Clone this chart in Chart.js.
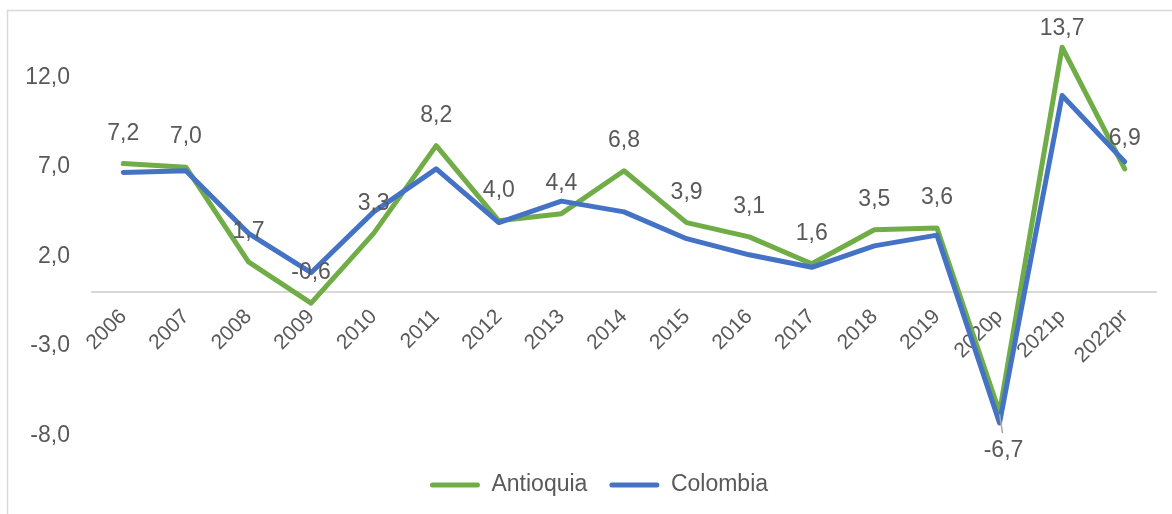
<!DOCTYPE html>
<html>
<head>
<meta charset="utf-8">
<script src="https://cdn.jsdelivr.net/npm/chart.js@4.4.1/dist/chart.umd.min.js"></script>
<style>
html,body{margin:0;padding:0;background:#fff;}
#wrap{width:1172px;height:514px;position:relative;}
</style>
</head>
<body>
<div id="wrap"><canvas id="c" width="1172" height="514"></canvas></div>
<script>
const categories = ['2006','2007','2008','2009','2010','2011','2012','2013','2014','2015','2016','2017','2018','2019','2020p','2021p','2022pr'];
const antioquia = [7.2, 7.0, 1.7, -0.6, 3.3, 8.2, 4.0, 4.4, 6.8, 3.9, 3.1, 1.6, 3.5, 3.6, -6.7, 13.7, 6.9];
const colombia = [6.7, 6.8, 3.3, 1.1, 4.5, 6.9, 3.9, 5.1, 4.5, 3.0, 2.1, 1.4, 2.6, 3.2, -7.3, 11.0, 7.3];
const yTicks = [-8, -3, 2, 7, 12];
const antioquiaLabelSide = ['above','above','above','above','above','above','above','above','above','above','above','above','above','above','below','above','above'];

const TEXT = '#595959';
const FONT = "'Liberation Sans', Arial, sans-serif";
const fmt = v => Number(v).toFixed(1).replace('.', ',');
Chart.defaults.font.family = FONT;

const frame = {
  id: 'frame',
  beforeDraw(chart) {
    const ctx = chart.ctx;
    ctx.save();
    ctx.fillStyle = '#fff';
    ctx.fillRect(0, 0, chart.width, chart.height);
    ctx.strokeStyle = '#d9d9d9';
    ctx.lineWidth = 1.5;
    ctx.strokeRect(7.5, 10.5, 1180, 520);
    ctx.restore();
  }
};

const legendPlace = {
  id: 'legendPlace',
  afterLayout(chart) {
    if (chart.legend) { chart.legend.left = 40; chart.legend.right = 1158; }
  }
};

const dataLabels = {
  id: 'dataLabels',
  afterDatasetsDraw(chart) {
    const ctx = chart.ctx;
    const meta = chart.getDatasetMeta(0);
    const area = chart.chartArea;
    ctx.save();
    ctx.font = '23px ' + FONT;
    ctx.fillStyle = TEXT;
    ctx.textAlign = 'center';
    ctx.textBaseline = 'middle';
    meta.data.forEach((pt, i) => {
      const v = antioquia[i];
      if (antioquiaLabelSide[i] === 'below') {
        ctx.strokeStyle = '#a6a6a6';
        ctx.lineWidth = 1.5;
        ctx.beginPath();
        ctx.moveTo(pt.x, pt.y + 2);
        ctx.lineTo(pt.x + 3, pt.y + 21);
        ctx.stroke();
        ctx.fillText(fmt(v), pt.x + 4, pt.y + 38);
      } else {
        const y = Math.max(pt.y - 30, area.top + 5);
        ctx.fillText(fmt(v), pt.x, y);
      }
    });
    ctx.restore();
  }
};

new Chart(document.getElementById('c'), {
  type: 'line',
  data: {
    labels: categories,
    datasets: [
      { label: 'Antioquia', data: antioquia, borderColor: '#70AD47', backgroundColor: '#70AD47', borderWidth: 5, pointRadius: 0, tension: 0, order: 1, borderJoinStyle: 'round', borderCapStyle: 'round' },
      { label: 'Colombia', data: colombia, borderColor: '#4472C4', backgroundColor: '#4472C4', borderWidth: 5, pointRadius: 0, tension: 0, order: 0, borderJoinStyle: 'round', borderCapStyle: 'round' }
    ]
  },
  options: {
    responsive: false,
    animation: false,
    devicePixelRatio: 1,
    layout: { padding: { left: 0, right: 16, top: 24, bottom: 7.5 } },
    plugins: {
      tooltip: { enabled: false },
      legend: {
        position: 'bottom',
        title: { display: true, text: ' ', font: { size: 10, lineHeight: 1.2 }, padding: { top: 2, bottom: 2 } },
        labels: {
          boxWidth: 50,
          boxHeight: 5,
          padding: 22,
          color: TEXT,
          font: { size: 23, family: FONT },
          generateLabels: chart => chart.data.datasets.map((ds, i) => ({
            text: ds.label, fillStyle: ds.borderColor, strokeStyle: ds.borderColor,
            lineWidth: 0, hidden: false, datasetIndex: i, fontColor: TEXT, borderRadius: 2.5
          }))
        }
      }
    },
    scales: {
      x: {
        type: 'category',
        offset: true,
        position: { y: 0 },
        grid: { display: false, drawTicks: false, offset: true },
        border: { display: true, color: '#d9d9d9', width: 2 },
        ticks: { autoSkip: false, maxRotation: 45, minRotation: 45, color: TEXT, font: { size: 21, family: FONT }, padding: 12 },
        afterFit: s => { s.paddingLeft = 0; s.paddingRight = 0; }
      },
      y: {
        min: -8,
        max: 15,
        grid: { display: false, drawTicks: false },
        border: { display: false },
        afterBuildTicks: s => { s.ticks = yTicks.map(v => ({ value: v })); },
        ticks: { color: TEXT, font: { size: 23, family: FONT }, padding: 22, callback: v => fmt(v) },
        afterFit: s => { s.width = 92; s.paddingTop = 0; s.paddingBottom = 0; }
      }
    }
  },
  plugins: [frame, legendPlace, dataLabels]
});
</script>
</body>
</html>
